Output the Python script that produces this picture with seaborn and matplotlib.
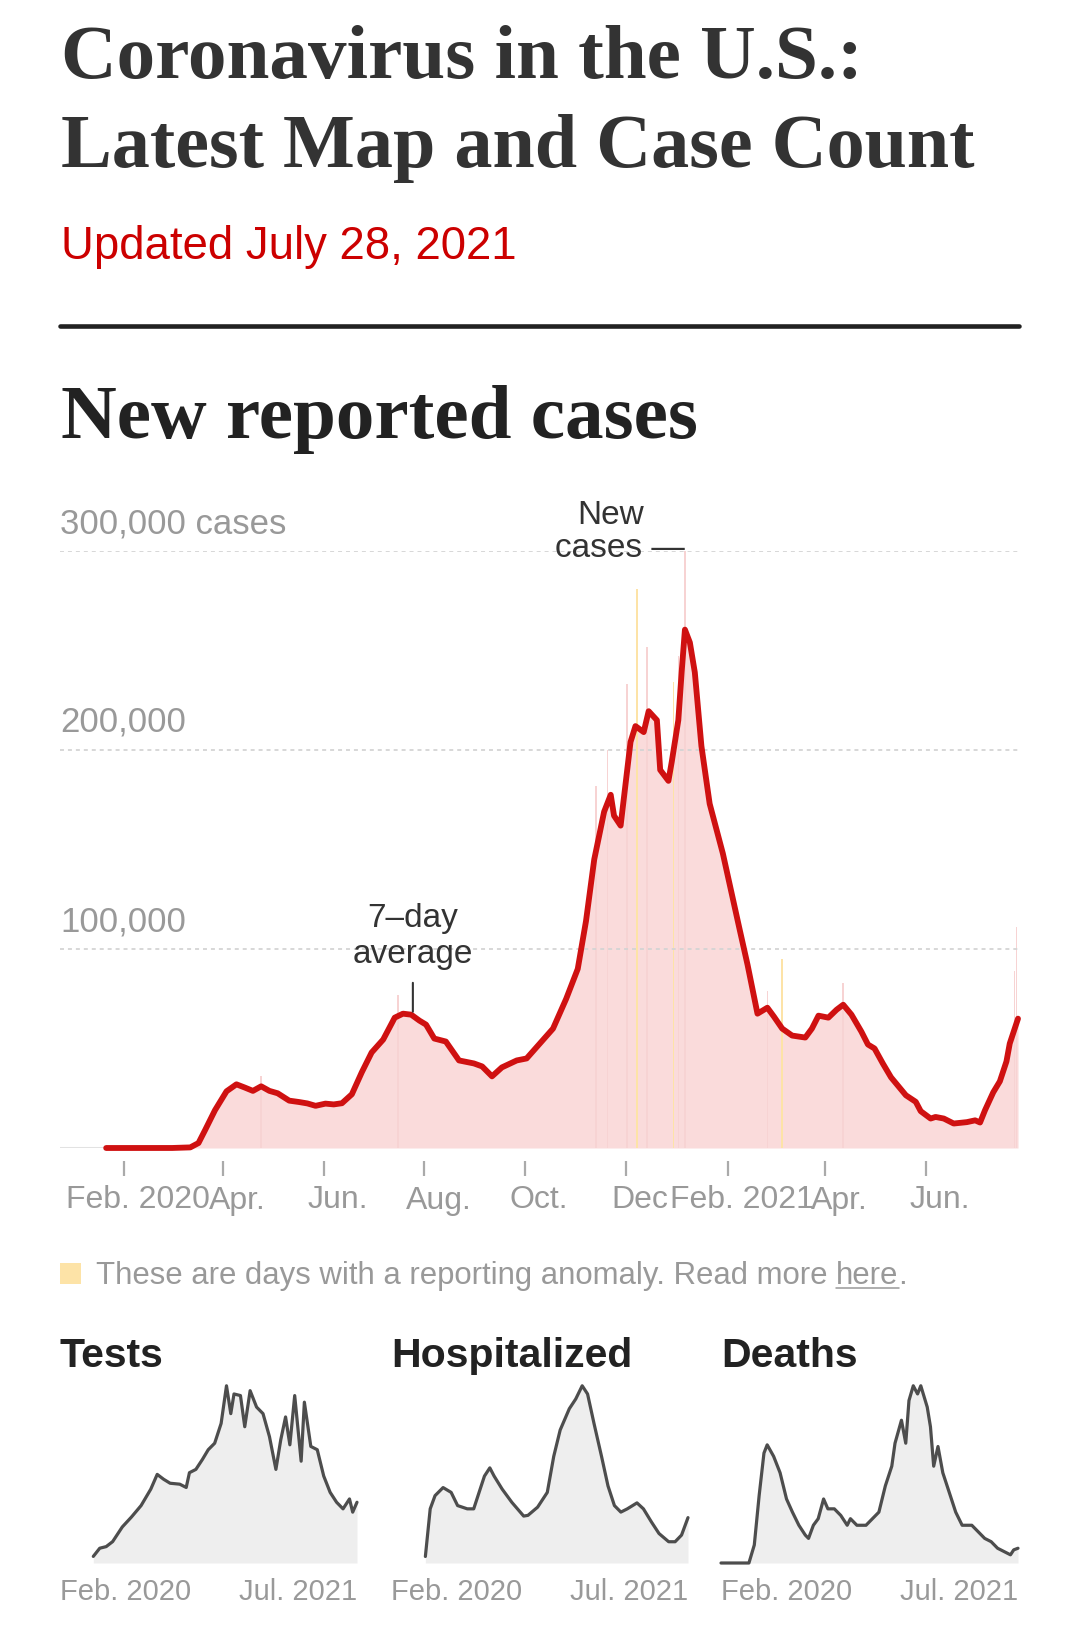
import numpy as np
import pandas as pd
import matplotlib
matplotlib.use("Agg")
import matplotlib.pyplot as plt
import matplotlib.transforms as mtransforms
from matplotlib.lines import Line2D
from matplotlib.patches import Rectangle
import seaborn as sns

# 7-day average of new cases
avg_dates = ["2020-01-21", "2020-03-01", "2020-03-12", "2020-03-17", "2020-03-21", "2020-03-27",
             "2020-04-03", "2020-04-09", "2020-04-14", "2020-04-19", "2020-04-24", "2020-04-29",
             "2020-05-04", "2020-05-11", "2020-05-17", "2020-05-22", "2020-05-27", "2020-06-02",
             "2020-06-07", "2020-06-12", "2020-06-18", "2020-06-24", "2020-06-30", "2020-07-07",
             "2020-07-14", "2020-07-19", "2020-07-24", "2020-07-29", "2020-08-02", "2020-08-07",
             "2020-08-14", "2020-08-22", "2020-08-31", "2020-09-05", "2020-09-11", "2020-09-17",
             "2020-09-26", "2020-10-02", "2020-10-10", "2020-10-18", "2020-10-26", "2020-11-02",
             "2020-11-07", "2020-11-12", "2020-11-18", "2020-11-22", "2020-11-24", "2020-11-28",
             "2020-12-01", "2020-12-04", "2020-12-07", "2020-12-12", "2020-12-15", "2020-12-20",
             "2020-12-22", "2020-12-27", "2020-12-29", "2021-01-02", "2021-01-04", "2021-01-06",
             "2021-01-09", "2021-01-12", "2021-01-16", "2021-01-21", "2021-01-29", "2021-02-08",
             "2021-02-13", "2021-02-19", "2021-02-25", "2021-03-01", "2021-03-06", "2021-03-12",
             "2021-03-20", "2021-03-24", "2021-03-28", "2021-04-03", "2021-04-08", "2021-04-12",
             "2021-04-17", "2021-04-23", "2021-04-27", "2021-05-01", "2021-05-06", "2021-05-11",
             "2021-05-16", "2021-05-20", "2021-05-26", "2021-05-29", "2021-06-04", "2021-06-07",
             "2021-06-12", "2021-06-18", "2021-06-26", "2021-07-01", "2021-07-04", "2021-07-07",
             "2021-07-12", "2021-07-16", "2021-07-20", "2021-07-22", "2021-07-27"]
avg_cases = [0, 10, 300, 2500, 9000, 19000,
             28500, 32000, 30400, 28700, 31000, 28700,
             27500, 23800, 23100, 22400, 21200, 22300,
             21900, 22500, 27000, 38000, 48000, 54500,
             65500, 67500, 67000, 64000, 62000, 55000,
             53500, 44000, 42500, 41000, 36000, 40500,
             44000, 45000, 52500, 60000, 75000, 90000,
             114000, 145000, 169000, 177500, 167000, 162000,
             183000, 204000, 212000, 209000, 219500, 215000,
             190000, 184500, 194000, 215000, 239000, 260500,
             254000, 239000, 202000, 173000, 148000, 110500,
             92000, 67500, 70500, 66000, 60000, 56500,
             55500, 60000, 66500, 65500, 69500, 72000,
             67000, 58500, 52000, 50000, 42500, 35500,
             30500, 26500, 23200, 18500, 14800, 15600,
             14800, 12300, 13000, 13900, 12800, 19000,
             28000, 33500, 43500, 52500, 65000]

# single days that stick out above the average
spike_dates = ["2020-04-24", "2020-07-16", "2020-11-13", "2020-11-20", "2020-12-02", "2020-12-08",
               "2020-12-14", "2020-12-30", "2021-01-02", "2021-01-06", "2021-02-25", "2021-03-06",
               "2021-04-12", "2021-07-25", "2021-07-26"]
spike_cases = [36000, 77000, 182000, 200000, 233000, 281000,
               252000, 234000, 247000, 300000, 79000, 95000,
               83000, 89000, 111000]
spike_anomaly = [False, False, False, False, False, True,
                 False, True, False, False, False, True,
                 False, False, False]

tick_dates = ["2020-02-01", "2020-04-01", "2020-06-01", "2020-08-01", "2020-10-01",
              "2020-12-01", "2021-02-01", "2021-04-01", "2021-06-01"]
tick_labels = ["Feb. 2020", "Apr.", "Jun.", "Aug.", "Oct.", "Dec", "Feb. 2021", "Apr.", "Jun."]
y_ticks = [100000, 200000, 300000]
y_labels = ["100,000", "200,000", "300,000 cases"]

# small multiples (7-day averages)
tests_dates = ["2020-03-23", "2020-04-04", "2020-04-16", "2020-04-28", "2020-05-16", "2020-06-02",
               "2020-06-20", "2020-07-08", "2020-07-20", "2020-08-01", "2020-08-13", "2020-08-31",
               "2020-09-12", "2020-09-18", "2020-09-30", "2020-10-12", "2020-10-23", "2020-11-04",
               "2020-11-16", "2020-11-26", "2020-12-04", "2020-12-10", "2020-12-22", "2020-12-30",
               "2021-01-09", "2021-01-21", "2021-02-02", "2021-02-14", "2021-02-26", "2021-03-07",
               "2021-03-16", "2021-03-24", "2021-04-02", "2021-04-14", "2021-04-20", "2021-05-02",
               "2021-05-14", "2021-05-26", "2021-06-07", "2021-06-19", "2021-07-01", "2021-07-13",
               "2021-07-19", "2021-07-27"]
tests_vals = [70, 157, 174, 227, 383, 488,
              610, 784, 941, 889, 847, 837,
              802, 959, 994, 1098, 1203, 1272,
              1482, 1882, 1586, 1795, 1778, 1447,
              1830, 1656, 1586, 1342, 994, 1307,
              1551, 1255, 1778, 1081, 1708, 1238,
              1203, 924, 750, 645, 575, 680,
              540, 645]

hosp_dates = ["2020-03-25", "2020-04-03", "2020-04-12", "2020-04-27", "2020-05-12", "2020-05-24",
              "2020-06-11", "2020-06-23", "2020-07-05", "2020-07-13", "2020-07-23", "2020-07-31",
              "2020-08-15", "2020-09-02", "2020-09-24", "2020-10-02", "2020-10-20", "2020-11-07",
              "2020-11-19", "2020-12-01", "2020-12-18", "2020-12-30", "2021-01-11", "2021-01-21",
              "2021-02-02", "2021-02-16", "2021-02-28", "2021-03-12", "2021-03-24", "2021-04-05",
              "2021-04-23", "2021-05-05", "2021-05-20", "2021-06-03", "2021-06-21", "2021-07-03",
              "2021-07-15", "2021-07-27"]
hosp_vals = [4.6, 38.2, 47.5, 53.2, 49.8, 40.5,
             38.2, 38.2, 52.1, 61.3, 67.1, 61.3,
             52.1, 42.8, 33.1, 33.6, 39.4, 49.8,
             75.2, 93.8, 108.8, 115.7, 125.0, 119.2,
             98.4, 75.2, 54.4, 40.5, 35.9, 38.2,
             42.4, 38.2, 28.9, 20.8, 15.0, 15.0,
             19.7, 32.0]

death_dates = ["2020-01-21", "2020-03-13", "2020-03-23", "2020-04-01", "2020-04-10", "2020-04-16",
               "2020-04-28", "2020-05-10", "2020-05-22", "2020-06-02", "2020-06-14", "2020-06-26",
               "2020-07-02", "2020-07-11", "2020-07-20", "2020-07-30", "2020-08-07", "2020-08-19",
               "2020-08-31", "2020-09-12", "2020-09-18", "2020-09-30", "2020-10-17", "2020-10-29",
               "2020-11-10", "2020-11-22", "2020-12-04", "2020-12-10", "2020-12-22", "2020-12-30",
               "2021-01-05", "2021-01-13", "2021-01-21", "2021-01-27", "2021-02-08", "2021-02-14",
               "2021-02-20", "2021-02-28", "2021-03-09", "2021-03-21", "2021-04-02", "2021-04-14",
               "2021-05-02", "2021-05-14", "2021-05-26", "2021-06-07", "2021-06-19", "2021-07-01",
               "2021-07-13", "2021-07-19", "2021-07-27"]
death_vals = [0, 0, 346, 1291, 2109, 2267,
              2046, 1731, 1228, 976, 724, 535,
              472, 724, 850, 1228, 1039, 1039,
              913, 724, 850, 724, 724, 850,
              976, 1480, 1857, 2298, 2739, 2298,
              3117, 3400, 3243, 3400, 2991, 2613,
              1857, 2235, 1731, 1354, 976, 724,
              724, 598, 472, 409, 283, 220,
              157, 252, 283]

RED = "#cf1111"
PINK = "#fadbdb"
ANOM = "#fde3a7"
GRAY = "#999999"
DARK = "#333333"

sns.set_theme(style="white")
SANS = ["Liberation Sans", "DejaVu Sans"]
SERIF = ["Liberation Serif", "DejaVu Serif"]
plt.rcParams["font.family"] = SANS

W, H = 1080, 1634
fig = plt.figure(figsize=(W / 100, H / 100), dpi=100)


def fx(px):
    return px / W


def fy(px):
    return 1 - px / H


# header
fig.text(fx(61), fy(78), "Coronavirus in the U.S.:", family=SERIF, weight="bold",
         fontsize=55.5, color=DARK, va="baseline")
fig.text(fx(61), fy(167), "Latest Map and Case Count", family=SERIF, weight="bold",
         fontsize=54.8, color=DARK, va="baseline")
fig.text(fx(61), fy(259), "Updated July 28, 2021", fontsize=32.8, color="#cc0000", va="baseline")
fig.add_artist(Line2D([fx(60), fx(1019)], [fy(326), fy(326)], color="#222222", lw=3.3))
fig.text(fx(61), fy(438), "New reported cases", family=SERIF, weight="bold",
         fontsize=55.5, color="#222222", va="baseline")

# main chart
cases = pd.DataFrame({"date": pd.to_datetime(avg_dates), "cases": avg_cases})
spikes = pd.DataFrame({"date": pd.to_datetime(spike_dates), "cases": spike_cases,
                       "anomaly": spike_anomaly})

ax = fig.add_axes([fx(60), fy(1148), fx(958), (1148 - 551) / H])
ax.axhline(0, color="#e2e2e2", lw=2.2, zorder=1)
ax.fill_between(cases["date"], 0, cases["cases"], color=PINK, lw=0, zorder=1.1)
ax.bar(spikes["date"], spikes["cases"], width=0.9,
       color=[ANOM if a else "#f7d3d3" for a in spikes["anomaly"]], lw=0, zorder=1.2)
sns.lineplot(data=cases, x="date", y="cases", ax=ax, color=RED, lw=4.2, zorder=3,
             clip_on=False, solid_joinstyle="round", solid_capstyle="round")
ax.set(xlabel="", ylabel="")
ax.set_xlim(pd.Timestamp("2019-12-24"), pd.Timestamp("2021-07-27"))
ax.set_ylim(0, 300000)
ax.set_yticks(y_ticks)
ax.set_yticklabels([])
ax.tick_params(axis="y", length=0, left=False)
ax.set_axisbelow(False)
ax.grid(axis="y", color="#d4d4d4", linestyle=(0, (2.2, 2.2)), lw=1.3)
ax.grid(axis="x", visible=False)
for s in ax.spines.values():
    s.set_visible(False)
ax.spines["bottom"].set_position(("outward", 9))
ax.set_xticks(pd.to_datetime(tick_dates))
ax.set_xticklabels(tick_labels)
ax.tick_params(axis="x", bottom=True, length=10.5, width=1.6, color="#aaaaaa",
               direction="out", pad=7.5, labelsize=23, labelcolor=GRAY)
shift = mtransforms.ScaledTranslation(14 / 100, 0, fig.dpi_scale_trans)
for lab in ax.get_xticklabels():
    lab.set_transform(lab.get_transform() + shift)

for v, lab in zip(y_ticks, y_labels):
    ax.annotate(lab, xy=(0, v), xycoords=("axes fraction", "data"), xytext=(0, 18),
                textcoords="offset pixels", ha="left", va="baseline", fontsize=25, color=GRAY)

# annotations
avg_x = pd.Timestamp("2020-07-25")
ax.text(avg_x, 111000, "7–day", ha="center", va="baseline", fontsize=24, color=DARK)
ax.text(avg_x, 93000, "average", ha="center", va="baseline", fontsize=24, color=DARK)
ax.annotate("", xy=(avg_x, 68500), xytext=(avg_x, 83000),
            arrowprops=dict(arrowstyle="-", color=DARK, lw=1.5, shrinkA=0, shrinkB=0))

top = spikes.loc[spikes["cases"].idxmax()]
ax.text(pd.Timestamp("2020-12-12"), 313500, "New", ha="right", va="baseline",
        fontsize=24, color=DARK)
ax.text(top["date"], 297000, "cases —", ha="right", va="baseline", fontsize=24, color=DARK)

# anomaly note
fig.add_artist(Rectangle((fx(60), fy(1284)), fx(21), 21 / H, transform=fig.transFigure,
                         color=ANOM, lw=0))
note = fig.text(fx(96), fy(1284), "These are days with a reporting anomaly. Read more",
                fontsize=22.4, color=GRAY, va="baseline")
fig.canvas.draw()
r = fig.canvas.get_renderer()
bb = note.get_window_extent(r)
here = fig.text((bb.x1 + 8.7) / W, fy(1284), "here", fontsize=22.4, color=GRAY, va="baseline")
bb2 = here.get_window_extent(r)
fig.add_artist(Line2D([bb2.x0 / W, bb2.x1 / W], [fy(1288), fy(1288)], color=GRAY, lw=1.1))
fig.text(bb2.x1 / W, fy(1284), ".", fontsize=22.4, color=GRAY, va="baseline")

# small multiples
panels = [("Tests", tests_dates, tests_vals, 60),
          ("Hospitalized", hosp_dates, hosp_vals, 391),
          ("Deaths", death_dates, death_vals, 721)]
x0, x1 = pd.Timestamp("2020-01-21"), pd.Timestamp("2021-07-27")
for title, dates, vals, left in panels:
    df = pd.DataFrame({"date": pd.to_datetime(dates), "val": vals})
    a = fig.add_axes([fx(left), fy(1563), fx(297), (1563 - 1384) / H])
    a.fill_between(df["date"], 0, df["val"], color="#eeeeee", lw=0)
    sns.lineplot(data=df, x="date", y="val", ax=a, color="#4d4d4d", lw=2.3, clip_on=False,
                 solid_joinstyle="round")
    a.set(xlabel="", ylabel="")
    a.set_xlim(x0, x1)
    a.set_ylim(0, max(vals) * 1.01)
    a.set_yticks([])
    for s in a.spines.values():
        s.set_visible(False)
    a.set_xticks([x0, x1])
    a.set_xticklabels(["Feb. 2020", "Jul. 2021"])
    a.tick_params(axis="x", length=0, pad=11, labelsize=21, labelcolor=GRAY)
    labs = a.get_xticklabels()
    labs[0].set_ha("left")
    labs[1].set_ha("right")
    fig.text(fx(left), fy(1367), title, fontsize=29.5, weight="bold", color="#222222",
             va="baseline")

fig.savefig("out.png", dpi=100)
